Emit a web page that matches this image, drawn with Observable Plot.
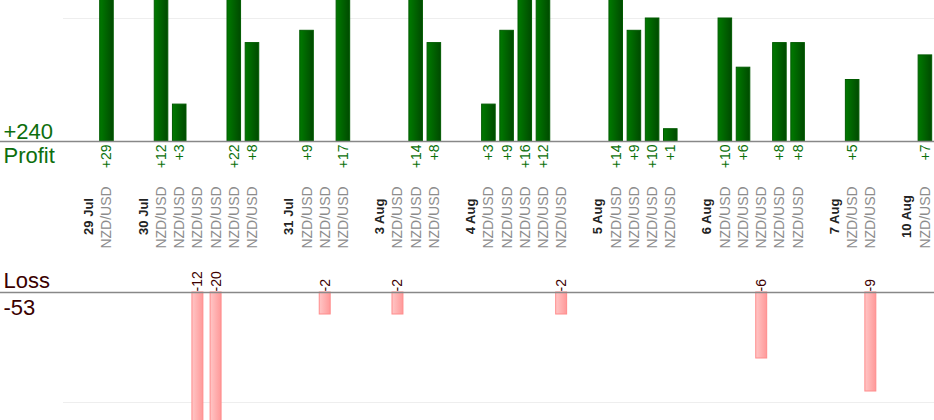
<!DOCTYPE html>
<html>
<head>
<meta charset="utf-8">
<script src="https://cdn.jsdelivr.net/npm/d3@7"></script>
<script src="https://cdn.jsdelivr.net/npm/@observablehq/plot@0.6"></script>
<style>
  html, body { margin: 0; padding: 0; background: #fff; }
  #chart { width: 934px; }
  #chart svg { display: block; }
</style>
</head>
<body>
<div id="chart"></div>
<script>
// Slot labels along the x axis ("" = spacer slot between days)
const slotLabels = [
  "", "29 Jul", "NZD/USD", "",
  "30 Jul", "NZD/USD", "NZD/USD", "NZD/USD", "NZD/USD", "NZD/USD", "NZD/USD", "",
  "31 Jul", "NZD/USD", "NZD/USD", "NZD/USD", "",
  "3 Aug", "NZD/USD", "NZD/USD", "NZD/USD", "",
  "4 Aug", "NZD/USD", "NZD/USD", "NZD/USD", "NZD/USD", "NZD/USD", "",
  "5 Aug", "NZD/USD", "NZD/USD", "NZD/USD", "NZD/USD", "",
  "6 Aug", "NZD/USD", "NZD/USD", "NZD/USD", "NZD/USD", "NZD/USD", "",
  "7 Aug", "NZD/USD", "NZD/USD", "",
  "10 Aug", "NZD/USD"
];
const dateLabels = ["29 Jul", "30 Jul", "31 Jul", "3 Aug", "4 Aug", "5 Aug", "6 Aug", "7 Aug", "10 Aug"];
// Profit/loss per trade slot (null where no trade)
const pnl = [
  null, null, 29, null,
  null, 12, 3, -12, -20, 22, 8, null,
  null, 9, -2, 17, null,
  null, -2, 14, 8, null,
  null, 3, 9, 16, 12, -2, null,
  null, 14, 9, 10, 1, null,
  null, 10, 6, -6, 8, 8, null,
  null, 5, -9, null,
  null, 7
];
const profitGrid = [10];
const lossGrid = [-10];

const slots = slotLabels.map((label, i) => ({i, label, v: pnl[i]}));
const profits = slots.filter(d => d.v != null && d.v > 0);
const losses = slots.filter(d => d.v != null && d.v < 0);
const totalProfit = d3.sum(profits, d => d.v);
const totalLoss = d3.sum(losses, d => d.v);

const FONT = "'Liberation Sans', Arial, Helvetica, sans-serif";
const W = 934;
const ML = 61;
const xScale = {type: "band", domain: slots.map(d => d.i), paddingInner: 0.2, paddingOuter: 0.1, round: false, axis: null};

const gradientDefs = () => {
  const g = d3.create("svg:defs");
  const gg = g.append("linearGradient").attr("id", "gGreen").attr("x1", 0).attr("x2", 1).attr("y1", 0).attr("y2", 0);
  gg.append("stop").attr("offset", "0%").attr("stop-color", "#007a00");
  gg.append("stop").attr("offset", "100%").attr("stop-color", "#004a00");
  const gp = g.append("linearGradient").attr("id", "gPink").attr("x1", 0).attr("x2", 1).attr("y1", 0).attr("y2", 0);
  gp.append("stop").attr("offset", "0%").attr("stop-color", "#ffc6c6");
  gp.append("stop").attr("offset", "100%").attr("stop-color", "#ff9999");
  return g.node();
};

const profitChart = Plot.plot({
  width: W, height: 250,
  marginLeft: ML, marginRight: 0, marginTop: 0, marginBottom: 0,
  style: {fontFamily: FONT, background: "#fff", overflow: "hidden"},
  x: xScale,
  y: {domain: [0, 10], range: [141, 18], axis: null},
  marks: [
    gradientDefs,
    Plot.ruleY(profitGrid, {stroke: "#eeeeee", strokeWidth: 1, insetLeft: 2}),
    Plot.barY(profits, {x: "i", y: "v", fill: "url(#gGreen)", stroke: "#005a00", strokeWidth: 1, insetLeft: 0.5, insetRight: 0.5, clip: true}),
    Plot.ruleY([0], {stroke: "#888888", strokeWidth: 1.5, insetLeft: -ML}),
    Plot.text(profits, {x: "i", y: 0, text: d => "+" + d.v, rotate: -90, textAnchor: "end", lineAnchor: "middle", dy: 3, fill: "#0a700a", fontSize: 14}),
    Plot.text(slots.filter(d => d.label === "NZD/USD"), {x: "i", frameAnchor: "top", dy: 217, text: "label", rotate: -90, textAnchor: "middle", lineAnchor: "middle", fill: "#8c8c8c", fontSize: 14}),
    Plot.text(slots.filter(d => dateLabels.includes(d.label)), {x: "i", frameAnchor: "top", dy: 216, text: "label", rotate: -90, textAnchor: "middle", lineAnchor: "middle", fill: "#222222", fontSize: 13, fontWeight: "bold"}),
    Plot.text([totalProfit], {frameAnchor: "left", y: 0, text: d => "+" + d, textAnchor: "start", lineAnchor: "bottom", dx: -58, dy: -3, fill: "#0d6e0d", fontSize: 22}),
    Plot.text(["Profit"], {frameAnchor: "left", y: 0, text: d => d, textAnchor: "start", lineAnchor: "top", dx: -58, dy: 6, fill: "#0d6e0d", fontSize: 22})
  ]
});

const lossChart = Plot.plot({
  width: W, height: 170,
  marginLeft: ML, marginRight: 0, marginTop: 0, marginBottom: 0,
  style: {fontFamily: FONT, background: "#fff", overflow: "hidden"},
  x: xScale,
  y: {domain: [-10, 0], range: [152, 42], axis: null},
  marks: [
    Plot.ruleY(lossGrid, {stroke: "#eeeeee", strokeWidth: 1, insetLeft: 2}),
    Plot.barY(losses, {x: "i", y: "v", fill: "url(#gPink)", stroke: "#ff8c8c", strokeWidth: 1, insetLeft: 1.8, insetRight: 1.8, clip: true}),
    Plot.ruleY([0], {stroke: "#888888", strokeWidth: 1.5, insetLeft: -ML}),
    Plot.text(losses, {x: "i", y: 0, text: d => String(d.v), rotate: -90, textAnchor: "start", lineAnchor: "middle", dy: -1, fill: "#3d0000", fontSize: 14}),
    Plot.text(["Loss"], {frameAnchor: "left", y: 0, text: d => d, textAnchor: "start", lineAnchor: "bottom", dx: -58, dy: -5, fill: "#3a0000", fontSize: 22}),
    Plot.text([totalLoss], {frameAnchor: "left", y: 0, text: d => String(d), textAnchor: "start", lineAnchor: "top", dx: -58, dy: 7, fill: "#3a0000", fontSize: 22})
  ]
});

const chart = document.getElementById("chart");
chart.appendChild(profitChart);
chart.appendChild(lossChart);
</script>
</body>
</html>
